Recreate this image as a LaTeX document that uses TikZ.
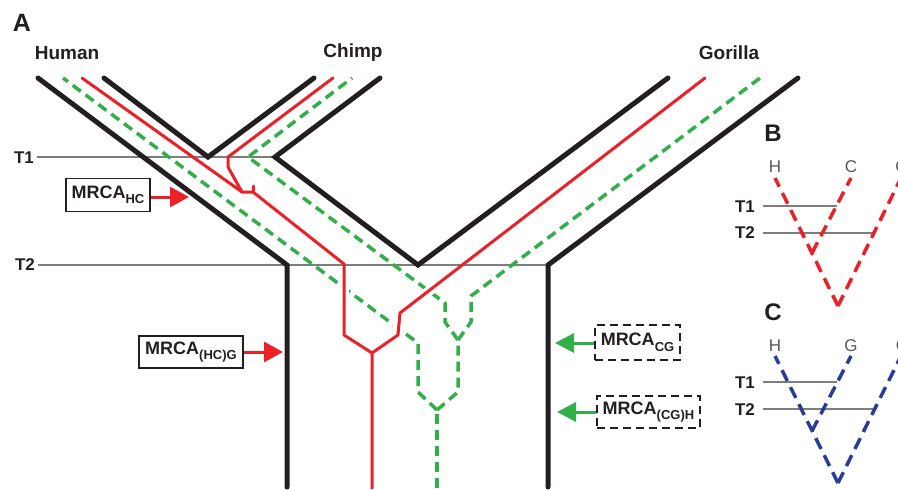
\documentclass[tikz,border=0pt]{standalone}
\usepackage{fontspec}
\setmainfont{Liberation Sans}
\usetikzlibrary{arrows.meta}
\definecolor{treered}{RGB}{236,32,39}
\definecolor{treegreen}{RGB}{50,175,72}
\definecolor{treeblue}{RGB}{40,62,150}
\definecolor{txt}{RGB}{35,31,32}
\definecolor{tline}{RGB}{125,125,125}
\newcommand\mysub[1]{\raisebox{-5.5pt}{\fontsize{13}{13}\selectfont #1}}
\begin{document}
\begin{tikzpicture}[x=1pt,y=-1pt,
  blk/.style={line width=5pt,line cap=round,line join=miter,txt},
  redl/.style={line width=3pt,treered,line join=round,line cap=round},
  grn/.style={line width=3.5pt,treegreen,dash pattern=on 10pt off 6pt,line join=round},
  halo/.style={line width=10pt,white},
  tl/.style={line width=1.1pt,tline},
  bdash/.style={line width=3.5pt,dash pattern=on 12pt off 7pt},
  lab/.style={font=\fontsize{19}{19}\selectfont\bfseries,text=txt,inner sep=0pt},
  panel/.style={font=\fontsize{25}{25}\selectfont\bfseries,text=txt,inner sep=0pt},
  tlab/.style={font=\fontsize{17}{17}\selectfont\bfseries,text=txt,inner sep=0pt},
  sp/.style={font=\fontsize{17}{17}\selectfont,text=txt!75,inner sep=0pt},
  mbox/.style={draw=txt,line width=1.5pt,inner sep=0pt,text=txt,font=\fontsize{18}{18}\selectfont\bfseries},
  dbox/.style={mbox,dash pattern=on 8pt off 5pt},
  redarr/.style={line width=3pt,treered,-{Triangle[length=19pt,width=20pt]}},
  grnarr/.style={line width=3pt,treegreen,-{Triangle[length=19pt,width=19pt]}}
]
\useasboundingbox (0,0) rectangle (898,490);

% ---------- Panel A ----------
\node[panel] (lA) at (22,23) {A};
\node[lab] (hum) at (67,53) {Human};
\node[lab] (chi) at (353,53) {Chimp};
\node[lab] (gor) at (729,53) {Gorilla};
\node[tlab] (t1a) at (24,158) {T1};
\node[tlab] (t2a) at (25,265) {T2};

% time lines
\draw[tl] (37,157) -- (275,157);
\draw[tl] (38,265) -- (548,265);

% species tree
\draw[blk] (38,78) -- (287,265) -- (287,487);
\draw[blk] (104,78) -- (208,157) -- (314,78);
\draw[blk] (380,78) -- (275,157) -- (418,265) -- (668,78);
\draw[blk] (798,78) -- (548,265) -- (548,487);

% green gene tree ((C,G),H)
\draw[grn] (437,488) -- (437,410);
\draw[grn] (437,410) -- (418,392) -- (418,343) -- (63,78);
\draw[grn] (437,410) -- (458,392) -- (458,340);
\draw[grn] (458,340) -- (445,322) -- (445,303) -- (248,157) -- (352,78);
\draw[grn] (458,340) -- (471,322) -- (471,296) -- (760,78);

% gaps where red passes over green
\draw[halo] (344,278) -- (344,298);
\draw[halo] (437,285) -- (420,298);
\draw[halo] (398,320) -- (398,334);

% red gene tree ((H,C),G)
\draw[redl] (82,78) -- (242,192);
\draw[redl] (333,78) -- (228,157) -- (228,167) -- (242,192) -- (253,192) -- (344,264) -- (344,335) -- (372,353) -- (372,488);
\draw[redl] (253,186) -- (253,192);
\draw[redl] (705,78) -- (400,313) -- (398,335) -- (372,353);

% MRCA boxes and arrows
\node[mbox,minimum width=84pt,minimum height=33pt] (mhc) at (108,195) {MRCA\mysub{HC}};
\coordinate (mhctip) at (189,197);
\draw[redarr] (mhc.east |- mhctip) -- (mhctip);

\node[mbox,minimum width=104pt,minimum height=32pt] (mhcg) at (191,352) {MRCA\mysub{(HC)G}};
\coordinate (mhcgtip) at (283,352);
\draw[redarr] (mhcg.east |- mhcgtip) -- (mhcgtip);

\node[dbox,minimum width=85pt,minimum height=35pt] (mcg) at (637.5,342.5) {MRCA\mysub{CG}};
\coordinate (mcgtip) at (555,343);
\draw[grnarr] (mcg.west |- mcgtip) -- (mcgtip);

\node[dbox,minimum width=103pt,minimum height=32pt] (mcgh) at (648.5,412) {MRCA\mysub{(CG)H}};
\coordinate (mcghtip) at (557,412);
\draw[grnarr] (mcgh.west |- mcghtip) -- (mcghtip);

% ---------- Panel B ----------
\node[panel,font=\fontsize{24}{24}\selectfont\bfseries] (lB) at (773,133) {B};
\node[sp] (bH) at (775,167) {H};
\node[sp] (bC) at (851,167) {C};
\node[sp] (bG) at (902,167) {G};
\node[tlab] (bt1) at (745,207) {T1};
\node[tlab] (bt2) at (745,233) {T2};
\draw[tl] (763,206) -- (837,206);
\draw[tl] (763,233) -- (875,233);
\draw[bdash,treered] (838,306) -- (775,178);
\draw[bdash,treered] (838,306) -- (901,178);
\draw[bdash,treered] (812,253) -- (851,178);

% ---------- Panel C ----------
\node[panel,font=\fontsize{24}{24}\selectfont\bfseries] (lC) at (773,312) {C};
\node[sp] (cH) at (775,346) {H};
\node[sp] (cG) at (851,346) {G};
\node[sp] (cC) at (902,346) {C};
\node[tlab] (ct1) at (745,383) {T1};
\node[tlab] (ct2) at (745,410) {T2};
\draw[tl] (763,382) -- (837,382);
\draw[tl] (763,409) -- (875,409);
\draw[bdash,treeblue] (838,483) -- (775,356);
\draw[bdash,treeblue] (838,483) -- (901,356);
\draw[bdash,treeblue] (812,431) -- (851,356);
\end{tikzpicture}
\end{document}
